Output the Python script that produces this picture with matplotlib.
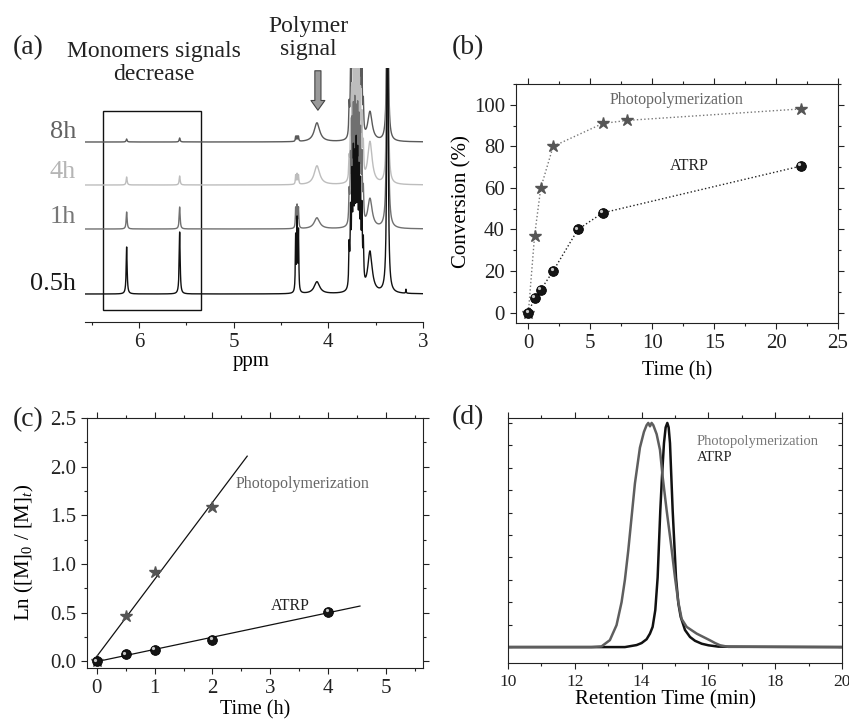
import numpy as np
import matplotlib
matplotlib.use('Agg')
import matplotlib.pyplot as plt
import matplotlib.transforms as mtransforms
from matplotlib.patches import Rectangle
from matplotlib.ticker import MultipleLocator, FormatStrFormatter

plt.rcParams['font.family'] = ['Liberation Serif', 'DejaVu Serif']
plt.rcParams['mathtext.fontset'] = 'custom'
plt.rcParams['mathtext.rm'] = 'Liberation Serif'
plt.rcParams['mathtext.it'] = 'Liberation Serif:italic'
plt.rcParams['text.color'] = '#222222'
plt.rcParams['axes.edgecolor'] = '#222222'
plt.rcParams['xtick.color'] = '#222222'
plt.rcParams['ytick.color'] = '#222222'

W, H = 849, 723

# ---- (a) 1H NMR: traces, peak positions / widths / heights
nmr_labels = ['8h', '4h', '1h', '0.5h']
nmr_baseline = [180, 137, 93, 28]
nmr_colors = ['#5a5a5a', '#bdbdbd', '#707070', '#111111']
nmr_label_colors = ['#626262', '#b5b5b5', '#777777', '#1a1a1a']
peak_ppm = [6.13, 5.57, 4.345, 4.33, 4.315, 4.12, 3.56, 3.375, 3.18]
peak_hwhm = [0.006, 0.006, 0.004, 0.004, 0.004, 0.035, 0.028, 0.007, 0.003]
peak_height = {
    '0.5h': [47, 62, 55, 70, 60, 12, 41, 400, 4],
    '1h':   [17, 22, 20, 22, 20, 11, 29, 400, 0],
    '4h':   [8, 9, 9, 10, 9, 19, 42, 300, 0],
    '8h':   [3, 4, 5, 5, 5, 19, 29, 300, 0],
}
# dense multiplet around 3.6-3.8 ppm
cluster_ppm = [3.78, 3.765, 3.75, 3.735, 3.72, 3.705, 3.69, 3.675, 3.66, 3.645, 3.63]
cluster_height = {
    '0.5h': [40, 70, 100, 120, 110, 125, 115, 100, 90, 70, 40],
    '1h':   [30, 60, 90, 100, 105, 95, 100, 90, 80, 60, 30],
    '4h':   [20, 50, 80, 100, 110, 105, 100, 90, 75, 55, 30],
    '8h':   [30, 60, 90, 110, 110, 100, 100, 90, 80, 60, 30],
}
cluster_hwhm = 0.005

# ---- (b) conversion vs time
time_photo = [0, 0.5, 1, 2, 6, 8, 22]
conv_photo = [0, 37, 60, 80, 91, 92.5, 98]
time_atrp = [0, 0.5, 1, 2, 4, 6, 22]
conv_atrp = [0, 7, 11, 20, 40, 48, 70.5]

# ---- (c) kinetics
kin_time_photo = [0, 0.5, 1, 2]
kin_ln_photo = [0, 0.46, 0.92, 1.59]
kin_time_atrp = [0, 0.5, 1, 2, 4]
kin_ln_atrp = [0, 0.07, 0.12, 0.22, 0.51]

# ---- (d) GPC traces
gpc_t_photo = [10, 12.5, 12.8, 13.05, 13.25, 13.4, 13.5, 13.6, 13.7, 13.8, 13.95, 14.07, 14.15,
               14.2, 14.25, 14.3, 14.35, 14.45, 14.55, 14.63, 14.75, 14.88, 15.0, 15.1, 15.2,
               15.35, 15.5, 15.65, 15.85, 16.05, 16.2, 16.35, 16.6, 20]
gpc_i_photo = [0, 0, 0.003, 0.031, 0.098, 0.2, 0.3, 0.43, 0.58, 0.73, 0.89, 0.96, 0.99,
               1.0, 0.985, 1.0, 0.99, 0.95, 0.88, 0.76, 0.61, 0.46, 0.31, 0.2, 0.125,
               0.09, 0.075, 0.06, 0.045, 0.03, 0.018, 0.008, 0.001, 0]
gpc_t_atrp = [10, 13.5, 13.85, 14.0, 14.15, 14.25, 14.33, 14.41, 14.48, 14.52, 14.56, 14.61,
              14.67, 14.72, 14.77, 14.81, 14.85, 14.89, 14.93, 14.98, 15.03, 15.1, 15.17,
              15.3, 15.45, 15.6, 15.8, 16.0, 16.3, 20]
gpc_i_atrp = [0, 0, 0.009, 0.018, 0.035, 0.06, 0.09, 0.165, 0.31, 0.46, 0.61, 0.76,
              0.91, 0.98, 1.0, 0.98, 0.91, 0.76, 0.61, 0.46, 0.31, 0.195, 0.135,
              0.076, 0.045, 0.028, 0.015, 0.008, 0.002, 0]

fig = plt.figure(figsize=(W / 100, H / 100), dpi=100)


def axes_px(l, t, r, b):
    return fig.add_axes([l / W, 1 - b / H, (r - l) / W, (b - t) / H])


def ftext(x, y, s, **kw):
    fig.text(x / W, 1 - y / H, s, **kw)


def frame_ticks(ax, left_dir='out'):
    ax.tick_params(which='both', top=True, right=True, width=0.8)
    ax.tick_params(axis='x', which='both', direction='out', labelsize=15)
    ax.tick_params(axis='y', which='both', direction=left_dir, labelsize=15)
    ax.tick_params(which='major', length=4.5)
    ax.tick_params(which='minor', length=2.5)
    for s in ax.spines.values():
        s.set_linewidth(0.8)


def spheres(ax, x, y, ms):
    ax.plot(x, y, 'o', ms=ms, mfc='#151515', mec='#000000', mew=0.6, zorder=4)
    hl = mtransforms.offset_copy(ax.transData, fig=fig, x=-ms * 0.17, y=ms * 0.17, units='points')
    ax.plot(x, y, 'o', ms=ms * 0.33, mfc='#c8c8c8', mec='none', transform=hl, zorder=5)


def lorentz_sum(x, centres, widths, heights):
    out = np.zeros_like(x)
    for c, w, h in zip(centres, widths, heights):
        out += h / (1 + ((x - c) / w) ** 2)
    return out


# ================= (a)
ax = axes_px(85, 68, 423, 322)
ppm = np.linspace(3.0, 6.57, 8000)
for lab, base, col in zip(nmr_labels, nmr_baseline, nmr_colors):
    spec = base + lorentz_sum(ppm, peak_ppm, peak_hwhm, peak_height[lab])
    spec += lorentz_sum(ppm, cluster_ppm, [cluster_hwhm] * len(cluster_ppm), cluster_height[lab])
    ax.plot(ppm, spec, color=col, lw=1.0)
ax.set_xlim(6.57, 3.0)
ax.set_ylim(0, 254)
for s in ['top', 'left', 'right']:
    ax.spines[s].set_visible(False)
ax.spines['bottom'].set_linewidth(0.8)
ax.set_yticks([])
ax.xaxis.set_major_locator(MultipleLocator(1))
ax.xaxis.set_minor_locator(MultipleLocator(0.5))
ax.tick_params(axis='x', which='both', direction='out', labelsize=15, width=0.8)
ax.tick_params(which='major', length=4.5)
ax.tick_params(which='minor', length=2.5)
ax.add_patch(Rectangle((5.345, 12), 6.38 - 5.345, 199, fill=False, ec='#111111', lw=1.0, clip_on=False))
ax.annotate('', xy=(4.11, 209), xytext=(4.11, 254),
            arrowprops=dict(arrowstyle='simple,head_width=0.5,head_length=0.35,tail_width=0.22',
                            fc='#9a9a9a', ec='#444444', lw=0.8, mutation_scale=20),
            annotation_clip=False)
ax.set_xlabel('ppm', fontsize=15)
ax.xaxis.set_label_coords(0.491, -0.118)
for lab, ypx, col in zip(nmr_labels, [132, 172, 217, 284], nmr_label_colors):
    ftext(76, ypx, lab, fontsize=19, color=col, ha='right', va='center')
ftext(154, 63, 'Monomers signals\ndecrease', fontsize=17, ha='center', va='center', linespacing=1.15)
ftext(308, 38, 'Polymer\nsignal', fontsize=17, ha='center', va='center', linespacing=1.15)
ftext(28, 48, '(a)', fontsize=20, ha='center', va='center')

# ================= (b)
ax = axes_px(516, 84, 838, 323)
ax.plot(time_photo, conv_photo, ':', color='#777777', lw=1.0)
ax.plot(time_atrp, conv_atrp, ':', color='#222222', lw=1.0)
ax.plot(time_photo, conv_photo, '*', ms=9, color='#555555', mec='#555555', zorder=4)
spheres(ax, time_atrp, conv_atrp, 7)
ax.set_xlim(-1, 25)
ax.set_ylim(-5, 110)
ax.xaxis.set_major_locator(MultipleLocator(5))
ax.xaxis.set_minor_locator(MultipleLocator(2.5))
ax.yaxis.set_major_locator(MultipleLocator(20))
ax.yaxis.set_minor_locator(MultipleLocator(10))
frame_ticks(ax)
ax.text(12.0, 102.4, 'Photopolymerization', fontsize=11.5, color='#666666', ha='center', va='center')
ax.text(13.0, 70.7, 'ATRP', fontsize=11.5, color='#222222', ha='center', va='center')
ax.set_xlabel('Time (h)', fontsize=14.5)
ax.xaxis.set_label_coords(0.5, -0.16)
ax.set_ylabel('Conversion (%)', fontsize=15)
ax.yaxis.set_label_coords(-0.137, 0.507)
ftext(468, 48, '(b)', fontsize=20, ha='center', va='center')

# ================= (c)
ax = axes_px(87, 418, 423, 668)
k_p = np.polyfit(kin_time_photo, kin_ln_photo, 1)
k_a = np.polyfit(kin_time_atrp, kin_ln_atrp, 1)
xp = np.array([0, 2.6])
xa = np.array([0, 4.55])
ax.plot(xp, np.polyval(k_p, xp), color='#111111', lw=0.9)
ax.plot(xa, np.polyval(k_a, xa), color='#111111', lw=0.9)
ax.plot(kin_time_photo, kin_ln_photo, '*', ms=9, color='#555555', zorder=4)
spheres(ax, kin_time_atrp, kin_ln_atrp, 7)
ax.set_xlim(-0.17, 5.64)
ax.set_ylim(-0.07, 2.5)
ax.xaxis.set_major_locator(MultipleLocator(1))
ax.xaxis.set_minor_locator(MultipleLocator(0.5))
ax.yaxis.set_major_locator(MultipleLocator(0.5))
ax.yaxis.set_minor_locator(MultipleLocator(0.25))
ax.yaxis.set_major_formatter(FormatStrFormatter('%.1f'))
frame_ticks(ax)
ax.text(3.55, 1.82, 'Photopolymerization', fontsize=11.5, color='#666666', ha='center', va='center')
ax.text(3.34, 0.566, 'ATRP', fontsize=11.5, color='#222222', ha='center', va='center')
ax.set_xlabel('Time (h)', fontsize=14.5)
ax.xaxis.set_label_coords(0.5, -0.128)
ax.set_ylabel(r'Ln ([M]$_0$ / [M]$_t$)', fontsize=15)
ax.yaxis.set_label_coords(-0.152, 0.462)
ftext(28, 420, '(c)', fontsize=20, ha='center', va='center')

# ================= (d)
ax = axes_px(508, 418, 842, 663)
ax.plot(gpc_t_atrp, gpc_i_atrp, color='#111111', lw=1.8)
ax.plot(gpc_t_photo, gpc_i_photo, color='#5e5e5e', lw=1.8)
ax.set_xlim(10, 20)
ax.set_ylim(-0.071, 1.022)
ax.xaxis.set_major_locator(MultipleLocator(2))
ax.xaxis.set_minor_locator(MultipleLocator(1))
ax.yaxis.set_major_locator(MultipleLocator(0.1))
ax.set_yticklabels([])
frame_ticks(ax, left_dir='in')
ax.tick_params(axis='x', labelsize=12.5)
ax.tick_params(axis='y', which='both', length=3)
ax.text(15.66, 0.915, 'Photopolymerization', fontsize=10.5, color='#777777', ha='left', va='center')
ax.text(15.66, 0.844, 'ATRP', fontsize=10.5, color='#222222', ha='left', va='center')
ax.set_xlabel('Retention Time (min)', fontsize=15)
ax.xaxis.set_label_coords(0.472, -0.11)
ftext(468, 418, '(d)', fontsize=20, ha='center', va='center')

fig.savefig('out.png', dpi=100)
